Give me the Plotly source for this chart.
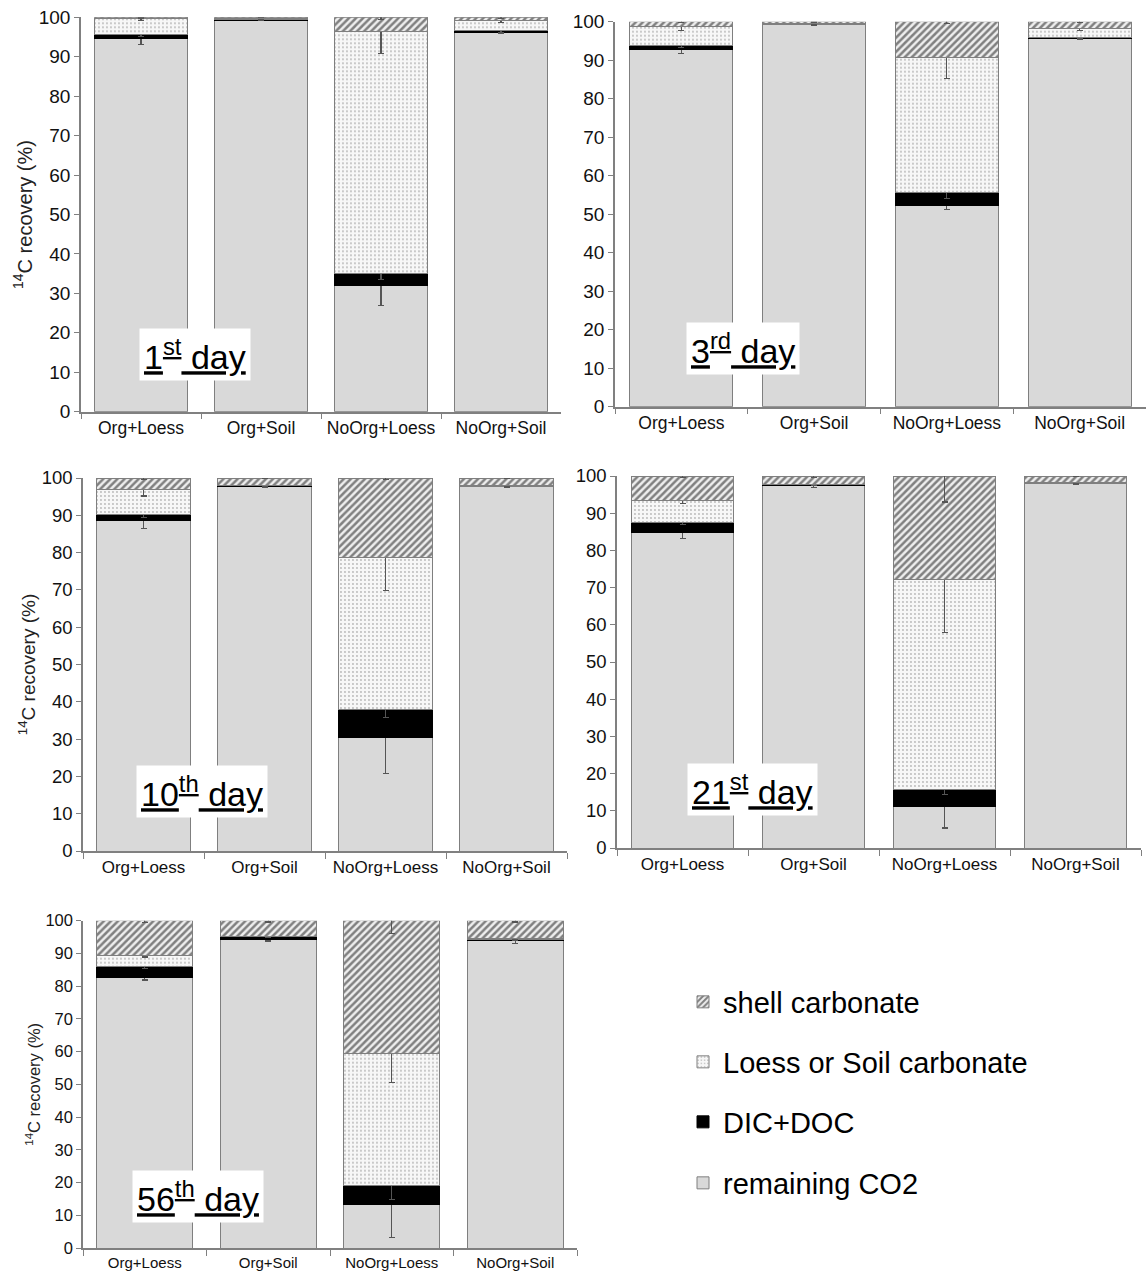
import plotly.graph_objects as go

# ---------------- data ----------------
categories = ["Org+Loess", "Org+Soil", "NoOrg+Loess", "NoOrg+Soil"]
day_labels = ["1<sup>st</sup> day", "3<sup>rd</sup> day", "10<sup>th</sup> day",
              "21<sup>st</sup> day", "56<sup>th</sup> day"]
series_names = ["remaining CO2", "DIC+DOC", "Loess or Soil carbonate", "shell carbonate"]

# one row per day (1st, 3rd, 10th, 21st, 56th), one value per category
remaining_co2 = [
    [94.5, 99.3, 31.9, 96.2],
    [92.8, 99.2, 52.2, 95.7],
    [88.6, 97.8, 30.5, 97.6],
    [84.7, 97.5, 11.2, 97.9],
    [82.6, 94.3, 13.2, 93.8],
]
dic_doc = [
    [1.2, 0.1, 3.2, 0.4],
    [1.1, 0.2, 3.5, 0.3],
    [1.6, 0.1, 7.5, 0.2],
    [2.7, 0.1, 4.5, 0.2],
    [3.4, 0.8, 5.8, 0.6],
]
loess_soil_carbonate = [
    [4.0, 0.3, 61.3, 2.6],
    [4.8, 0.2, 35.0, 2.3],
    [6.8, 0.1, 40.7, 0.1],
    [6.1, 0.1, 56.6, 0.1],
    [3.5, 0.1, 40.5, 0.05],
]
shell_carbonate = [
    [0.3, 0.3, 3.6, 0.8],
    [1.3, 0.4, 9.3, 1.7],
    [3.0, 2.0, 21.3, 2.1],
    [6.5, 2.3, 27.7, 1.8],
    [10.5, 4.8, 40.5, 5.55],
]
# standard errors
remaining_co2_err = [
    [1.4, 0.2, 4.9, 0.3],
    [1.0, 0.2, 1.0, 0.3],
    [2.2, 0.4, 9.8, 0.2],
    [1.5, 0.5, 5.8, 0.2],
    [0.7, 0.5, 10.1, 0.8],
]
dic_doc_err = [
    [0.5, 0.1, 1.5, 0.4],
    [0.6, 0.2, 1.6, 0.3],
    [0.8, 0.1, 2.2, 0.1],
    [0.5, 0.1, 1.3, 0.1],
    [0.7, 0.3, 4.3, 0.3],
]
loess_soil_carbonate_err = [
    [0.6, 0.2, 5.5, 0.5],
    [1.0, 0.2, 5.4, 0.6],
    [1.8, 0.1, 8.9, 0.1],
    [0.8, 0.1, 14.4, 0.1],
    [0.6, 0.2, 9.0, 0.1],
]
shell_carbonate_err = [
    [0.2, 0.1, 0.5, 0.4],
    [0.3, 0.2, 0.4, 0.3],
    [0.3, 0.2, 0.4, 0.2],
    [0.3, 0.3, 7.0, 0.2],
    [0.5, 0.4, 4.0, 0.4],
]

# ---------------- layout helpers ----------------
W, H = 1147, 1277
FONT = "Arial, Liberation Sans, sans-serif"

# panel pixel boxes: (x_left, x_right, y_top(100), y_bottom(0))
panels = [
    (81, 561, 17.3, 411.7),
    (615, 1146, 21.7, 406.7),
    (83, 567, 478, 851),
    (617, 1141, 476, 848),
    (83, 577, 920.7, 1248),
]
cat_font = [17.5, 17.5, 17, 17, 15]
tick_font = [19, 19, 18.5, 18.5, 16.5]
show_ytitle = [True, False, True, False, True]
ytitle_font = [20, 20, 19, 19, 16.5]
label_pos = [(195, 354), (743, 349), (202, 791), (752, 789), (198, 1196)]

styles = [
    dict(color="#d9d9d9", line=dict(color="#7f7f7f", width=1)),
    dict(color="#000000", line=dict(color="#000000", width=1)),
    dict(color="#f7f7f7", line=dict(color="#7f7f7f", width=1),
         pattern=dict(shape=".", size=4, solidity=0.18, fgcolor="#7a7a7a", bgcolor="#f7f7f7")),
    dict(color="#ffffff", line=dict(color="#7f7f7f", width=1),
         pattern=dict(shape="/", size=5, solidity=0.5, fgcolor="#111111", bgcolor="#eeeeee")),
]
data_sets = [remaining_co2, dic_doc, loess_soil_carbonate, shell_carbonate]
err_sets = [remaining_co2_err, dic_doc_err, loess_soil_carbonate_err, shell_carbonate_err]
legend_ids = ["legend4", "legend3", "legend2", "legend"]

fig = go.Figure()
layout = dict(
    width=W, height=H, margin=dict(l=0, r=0, t=0, b=0, autoexpand=False),
    paper_bgcolor="white", plot_bgcolor="white",
    barmode="stack", bargap=0.225,
    font=dict(family=FONT, color="#000000"),
    annotations=[],
)

for p, (x0, x1, yt, yb) in enumerate(panels):
    sfx = "" if p == 0 else str(p + 1)
    for s in range(4):
        fig.add_trace(go.Bar(
            x=categories, y=data_sets[s][p], name=series_names[s],
            xaxis="x" + sfx, yaxis="y" + sfx,
            marker=styles[s],
            error_y=dict(type="data", array=err_sets[s][p], color="#555555",
                         thickness=1.2, width=3),
            showlegend=(p == 0), legend=legend_ids[s],
            cliponaxis=False,
        ))
    layout["xaxis" + sfx] = dict(
        domain=[x0 / W, x1 / W], anchor="y" + sfx,
        type="category", range=[-0.5, 3.5], tickangle=0, automargin=False,
        showline=True, linecolor="#808080", linewidth=1.5,
        ticks="outside", tickson="boundaries", ticklen=6, tickcolor="#808080",
        tickfont=dict(size=cat_font[p], family=FONT, color="#111111"),
        showgrid=False, zeroline=False,
    )
    yax = dict(
        domain=[1 - yb / H, 1 - yt / H], anchor="x" + sfx,
        range=[0, 100], dtick=10, automargin=False,
        showline=True, linecolor="#808080", linewidth=1.5,
        ticks="outside", ticklen=5, tickcolor="#808080",
        tickfont=dict(size=tick_font[p], family=FONT, color="#111111"),
        showgrid=False, zeroline=False,
    )
    if show_ytitle[p]:
        yax["title"] = dict(text="<sup>14</sup>C recovery (%)",
                            font=dict(size=ytitle_font[p], family=FONT, color="#222222"),
                            standoff=1)
    layout["yaxis" + sfx] = yax
    lx, ly = label_pos[p]
    layout["annotations"].append(dict(
        text="<u>" + day_labels[p] + "</u>", x=lx / W, y=1 - ly / H,
        xref="paper", yref="paper", xanchor="center", yanchor="middle",
        showarrow=False, bgcolor="white", borderpad=4,
        font=dict(size=34, family=FONT, color="#000000"),
    ))

legend_y = {"legend": 1002, "legend2": 1062, "legend3": 1122, "legend4": 1183}
for lid, py in legend_y.items():
    layout[lid] = dict(
        x=(703 - 20) / W, y=1 - py / H, xanchor="left", yanchor="middle",
        bgcolor="rgba(0,0,0,0)", borderwidth=0,
        font=dict(size=29, family=FONT, color="#000000"),
    )

fig.update_layout(**layout)
fig.write_html("out.html", config={"displayModeBar": False},
               post_script="document.body.style.margin='0';")
